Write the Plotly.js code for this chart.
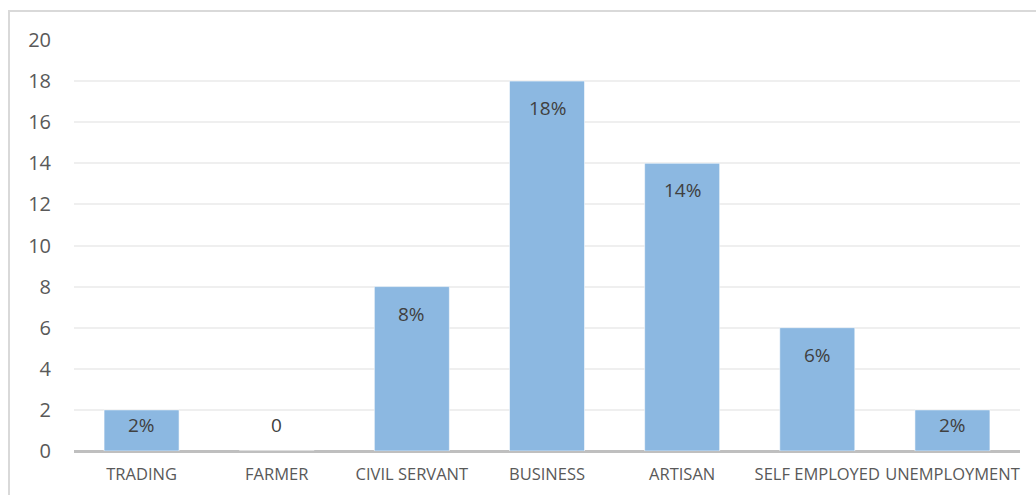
<!DOCTYPE html>
<html>
<head>
<meta charset="utf-8">
<script src="https://cdn.plot.ly/plotly-3.0.1.min.js"></script>
<style>
  html, body { margin: 0; padding: 0; background: #fff; overflow: hidden; width: 1036px; height: 495px; }
  #frame { position: absolute; left: 8px; top: 10px; width: 1200px; height: 700px;
           border-left: 2px solid #d9d9d9; border-top: 2px solid #d9d9d9; box-sizing: border-box; }
  #chart { position: absolute; left: 0; top: 0; width: 1036px; height: 495px; }
</style>
</head>
<body>
<div id="frame"></div>
<div id="chart"></div>
<script>
const categories = ["TRADING", "FARMER", "CIVIL SERVANT", "BUSINESS", "ARTISAN", "SELF EMPLOYED", "UNEMPLOYMENT"];
const values = [2, 0, 8, 18, 14, 6, 2];
const labels = ["2%", "0", "8%", "18%", "14%", "6%", "2%"];
const yTicks = [0, 2, 4, 6, 8, 10, 12, 14, 16, 18, 20];

const H = 495, T = 40, B = 44;
const pxPerUnit = (H - T - B) / 20;

const trace = {
  type: "bar",
  x: categories,
  y: values,
  width: 0.555,
  marker: { color: "#8cb8e1", line: { color: "rgba(255,255,255,0.55)", width: 1 } },
  hoverinfo: "skip"
};

const annotations = categories.map((c, i) => ({
  x: c,
  y: Math.max(values[i] - 27 / pxPerUnit, 26 / pxPerUnit),
  xref: "x", yref: "y",
  text: labels[i],
  showarrow: false,
  yanchor: "middle",
  font: { family: "Open Sans, sans-serif", size: 19, color: "#404040" }
}));

const layout = {
  width: 1036, height: 495,
  margin: { l: 74, r: 16, t: T, b: B, pad: 0 },
  paper_bgcolor: "rgba(0,0,0,0)",
  plot_bgcolor: "rgba(0,0,0,0)",
  showlegend: false,
  bargap: 0.445,
  xaxis: {
    type: "category",
    showgrid: false, showline: false, zeroline: false,
    ticks: "",
    tickangle: 0,
    tickfont: { family: "Open Sans, sans-serif", size: 16.5, color: "#595959" },
    ticklabelstandoff: 11,
    fixedrange: true
  },
  yaxis: {
    range: [0, 20],
    tickvals: yTicks,
    ticktext: yTicks.map(String),
    showgrid: true, gridcolor: "#efefef", gridwidth: 2,
    zeroline: true, zerolinecolor: "#bfbfbf", zerolinewidth: 3,
    showline: false, ticks: "",
    tickfont: { family: "Open Sans, sans-serif", size: 20, color: "#595959" },
    ticklabelstandoff: 22,
    fixedrange: true
  },
  annotations: annotations
};

Plotly.newPlot("chart", [trace], layout, { displayModeBar: false, staticPlot: true });
</script>
</body>
</html>
